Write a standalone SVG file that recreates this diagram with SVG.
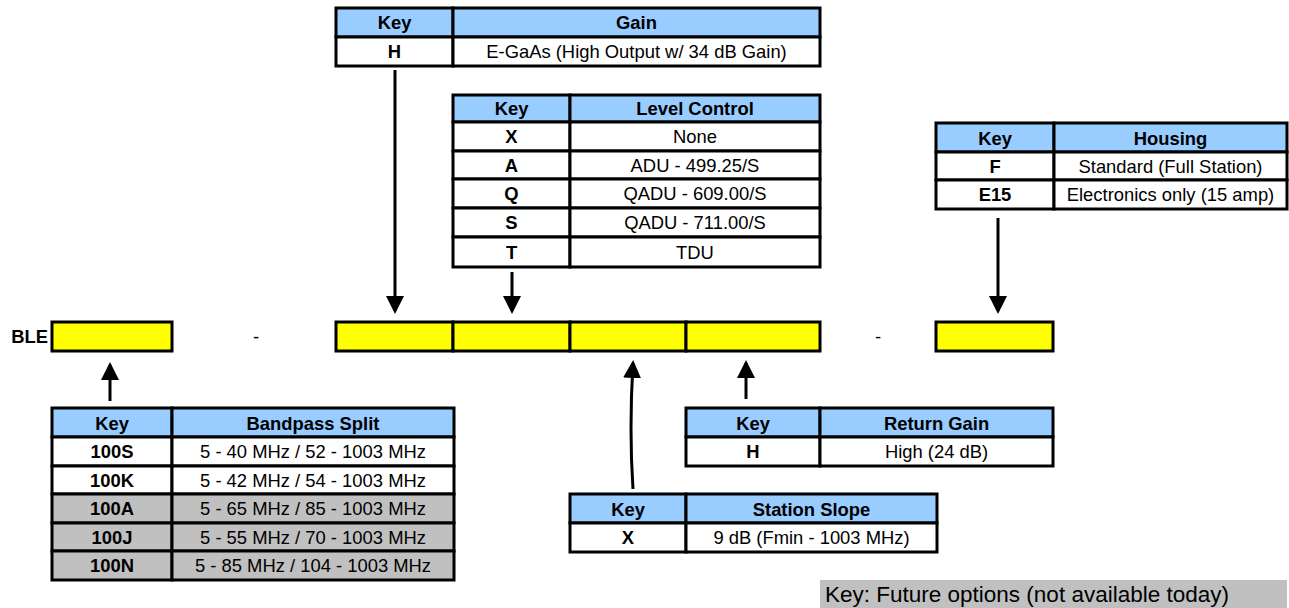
<svg xmlns="http://www.w3.org/2000/svg" width="1289" height="608" viewBox="0 0 1289 608">
<defs>
<style>
text{font-family:"Liberation Sans",Arial,sans-serif;font-size:18.4px;fill:#000;text-anchor:middle}
.b{font-weight:bold}
.hd{fill:#99ccff;stroke:#000;stroke-width:3}
.w{fill:#fff;stroke:#000;stroke-width:3}
.g{fill:#c0c0c0;stroke:#000;stroke-width:3}
.y{fill:#ffff00;stroke:#000;stroke-width:3}
.ar{stroke:#000;stroke-width:3;fill:none;marker-end:url(#ah)}
</style>
<marker id="ah" markerWidth="6" markerHeight="6" refX="5" refY="3" orient="auto" markerUnits="strokeWidth" viewBox="0 0 6 6">
<path d="M0,0 L6,3 L0,6 z" fill="#000"/>
</marker>
</defs>
<rect width="1289" height="608" fill="#fff"/>

<g id="gain">
<rect class="hd" x="336" y="8" width="117" height="29"/>
<rect class="hd" x="453" y="8" width="367" height="29"/>
<rect class="w" x="336" y="37" width="117" height="29"/>
<rect class="w" x="453" y="37" width="367" height="29"/>
<text class="b" x="394.5" y="29">Key</text>
<text class="b" x="636.5" y="29">Gain</text>
<text class="b" x="394.5" y="58">H</text>
<text x="636.5" y="58">E-GaAs (High Output w/ 34 dB Gain)</text>
</g>

<g id="level-control">
<rect class="hd" x="453" y="95" width="117" height="27"/>
<rect class="hd" x="570" y="95" width="250" height="27"/>
<rect class="w" x="453" y="122" width="117" height="29"/>
<rect class="w" x="570" y="122" width="250" height="29"/>
<rect class="w" x="453" y="151" width="117" height="28"/>
<rect class="w" x="570" y="151" width="250" height="28"/>
<rect class="w" x="453" y="179" width="117" height="29"/>
<rect class="w" x="570" y="179" width="250" height="29"/>
<rect class="w" x="453" y="208" width="117" height="29"/>
<rect class="w" x="570" y="208" width="250" height="29"/>
<rect class="w" x="453" y="237" width="117" height="30"/>
<rect class="w" x="570" y="237" width="250" height="30"/>
<text class="b" x="511.5" y="115">Key</text>
<text class="b" x="695" y="115">Level Control</text>
<text class="b" x="511.5" y="143">X</text>
<text x="695" y="143">None</text>
<text class="b" x="511.5" y="171.5">A</text>
<text x="695" y="171.5">ADU - 499.25/S</text>
<text class="b" x="511.5" y="200">Q</text>
<text x="695" y="200">QADU - 609.00/S</text>
<text class="b" x="511.5" y="229">S</text>
<text x="695" y="229">QADU - 711.00/S</text>
<text class="b" x="511.5" y="258.5">T</text>
<text x="695" y="258.5">TDU</text>
</g>

<g id="housing">
<rect class="hd" x="936" y="123" width="118" height="29"/>
<rect class="hd" x="1054" y="123" width="233" height="29"/>
<rect class="w" x="936" y="152" width="118" height="28"/>
<rect class="w" x="1054" y="152" width="233" height="28"/>
<rect class="w" x="936" y="180" width="118" height="29"/>
<rect class="w" x="1054" y="180" width="233" height="29"/>
<text class="b" x="995" y="144.5">Key</text>
<text class="b" x="1170.5" y="144.5">Housing</text>
<text class="b" x="995" y="172.5">F</text>
<text x="1170.5" y="172.5">Standard (Full Station)</text>
<text class="b" x="995" y="201">E15</text>
<text x="1170.5" y="201">Electronics only (15 amp)</text>
</g>

<g id="part-number">
<text class="b" x="48" y="343" style="text-anchor:end">BLE</text>
<rect class="y" x="52" y="322" width="120" height="29"/>
<text x="256" y="343">-</text>
<rect class="y" x="336" y="322" width="117" height="29"/>
<rect class="y" x="453" y="322" width="117" height="29"/>
<rect class="y" x="570" y="322" width="116" height="29"/>
<rect class="y" x="686" y="322" width="134" height="29"/>
<text x="878" y="343">-</text>
<rect class="y" x="936" y="322" width="117" height="29"/>
</g>

<g id="bandpass-split">
<rect class="hd" x="52" y="408" width="120" height="29"/>
<rect class="hd" x="172" y="408" width="282" height="29"/>
<rect class="w" x="52" y="437" width="120" height="29"/>
<rect class="w" x="172" y="437" width="282" height="29"/>
<rect class="w" x="52" y="466" width="120" height="28"/>
<rect class="w" x="172" y="466" width="282" height="28"/>
<rect class="g" x="52" y="494" width="120" height="29"/>
<rect class="g" x="172" y="494" width="282" height="29"/>
<rect class="g" x="52" y="523" width="120" height="28"/>
<rect class="g" x="172" y="523" width="282" height="28"/>
<rect class="g" x="52" y="551" width="120" height="29"/>
<rect class="g" x="172" y="551" width="282" height="29"/>
<text class="b" x="112" y="429.5">Key</text>
<text class="b" x="313" y="429.5">Bandpass Split</text>
<text class="b" x="112" y="458">100S</text>
<text x="313" y="458">5 - 40 MHz / 52 - 1003 MHz</text>
<text class="b" x="112" y="486.5">100K</text>
<text x="313" y="486.5">5 - 42 MHz / 54 - 1003 MHz</text>
<text class="b" x="112" y="515">100A</text>
<text x="313" y="515">5 - 65 MHz / 85 - 1003 MHz</text>
<text class="b" x="112" y="543.5">100J</text>
<text x="313" y="543.5">5 - 55 MHz / 70 - 1003 MHz</text>
<text class="b" x="112" y="572">100N</text>
<text x="313" y="572">5 - 85 MHz / 104 - 1003 MHz</text>
</g>

<g id="return-gain">
<rect class="hd" x="686" y="408" width="134" height="29"/>
<rect class="hd" x="820" y="408" width="233" height="29"/>
<rect class="w" x="686" y="437" width="134" height="29"/>
<rect class="w" x="820" y="437" width="233" height="29"/>
<text class="b" x="753" y="429.5">Key</text>
<text class="b" x="936.5" y="429.5">Return Gain</text>
<text class="b" x="753" y="458">H</text>
<text x="936.5" y="458">High (24 dB)</text>
</g>

<g id="station-slope">
<rect class="hd" x="570" y="494" width="116" height="29"/>
<rect class="hd" x="686" y="494" width="251" height="29"/>
<rect class="w" x="570" y="523" width="116" height="29"/>
<rect class="w" x="686" y="523" width="251" height="29"/>
<text class="b" x="628" y="515.5">Key</text>
<text class="b" x="811.5" y="515.5">Station Slope</text>
<text class="b" x="628" y="544">X</text>
<text x="811.5" y="544">9 dB (Fmin - 1003 MHz)</text>
</g>

<g id="legend">
<rect x="820" y="580" width="467" height="28" fill="#c0c0c0"/>
<text x="825" y="602" style="text-anchor:start;font-size:22.5px">Key: Future options (not available today)</text>
</g>

<g id="connectors">
<line class="ar" x1="395" y1="70" x2="395" y2="311"/>
<line class="ar" x1="512" y1="272" x2="512" y2="311"/>
<line class="ar" x1="998" y1="218" x2="998" y2="311"/>
<line class="ar" x1="110" y1="401" x2="110" y2="365"/>
<path class="ar" d="M633,489 Q629,430 633,363"/>
<line class="ar" x1="746" y1="399" x2="746" y2="363"/>
</g>
</svg>
